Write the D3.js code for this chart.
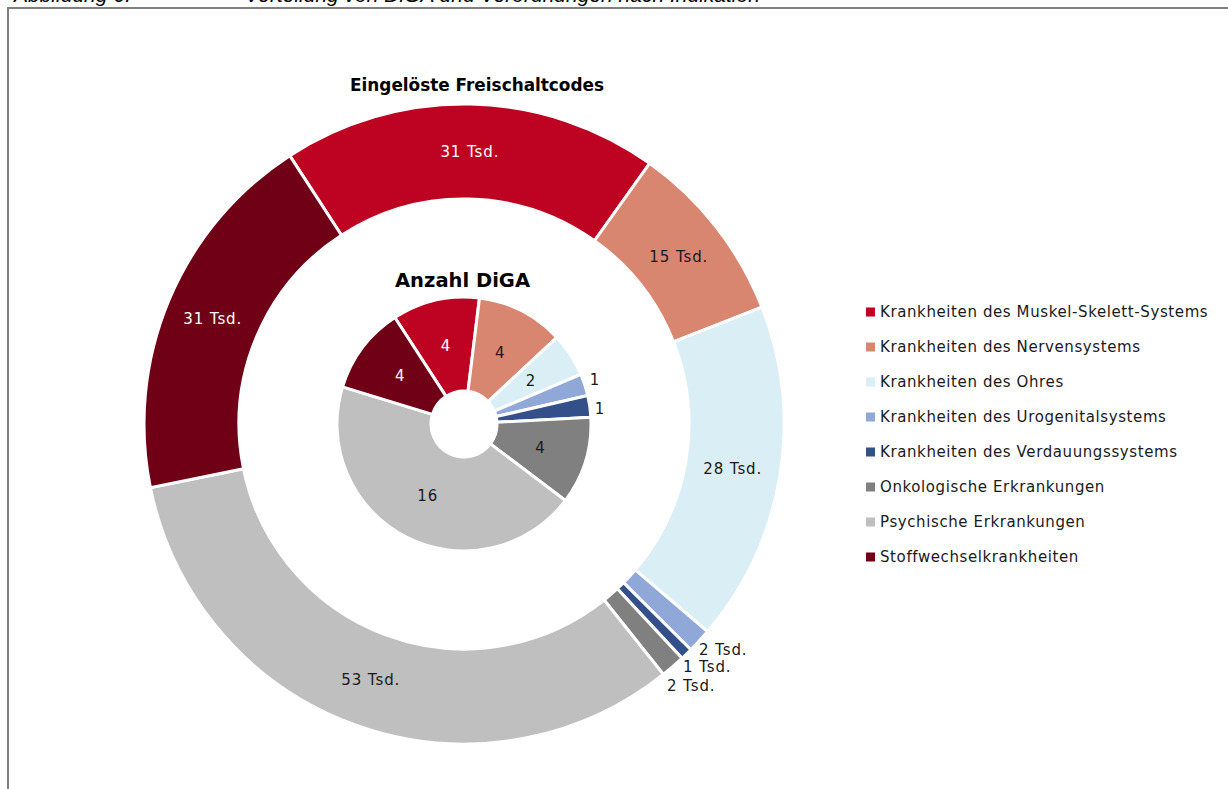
<!DOCTYPE html>
<html><head><meta charset="utf-8">
<script src="https://cdn.jsdelivr.net/npm/d3@7"></script>
<style>body{margin:0;background:#fff}svg{display:block}</style>
</head><body>
<svg id="c" width="1228" height="789"></svg>
<script>
const categories = ["Krankheiten des Muskel-Skelett-Systems","Krankheiten des Nervensystems","Krankheiten des Ohres","Krankheiten des Urogenitalsystems","Krankheiten des Verdauungssystems","Onkologische Erkrankungen","Psychische Erkrankungen","Stoffwechselkrankheiten"];
const codesTsd = [31,15,28,2,1,2,53,31];
const codesLabels = ["31 Tsd.","15 Tsd.","28 Tsd.","2 Tsd.","1 Tsd.","2 Tsd.","53 Tsd.","31 Tsd."];
const digaCount = [4,4,2,1,1,4,16,4];
const colors = ["#BE0322","#D88670","#DAEEF5","#8FA8D8","#34508A","#808080","#BFBFBF","#700015"];
const whiteText = [true,false,false,false,false,false,false,true];

const svg = d3.select("#c");
const font = "'DejaVu Sans', Verdana, sans-serif";

// caption (cut off at top, as in the source)
svg.append("text").attr("x",14).attr("y",2).attr("font-family","'Liberation Sans', Arial, sans-serif").attr("font-style","italic").attr("font-size",21).attr("fill","#000").text("Abbildung 6:");
svg.append("text").attr("x",245).attr("y",2).attr("font-family","'Liberation Sans', Arial, sans-serif").attr("font-style","italic").attr("font-size",21).attr("fill","#000").text("Verteilung von DiGA und Verordnungen nach Indikation");

// frame
svg.append("path").attr("d","M8,789 L8,8 L1228,8").attr("fill","none").attr("stroke","#808080").attr("stroke-width",2);

const cx = 464, cy = 424;
const g = svg.append("g").attr("transform",`translate(${cx},${cy})`);
const start = -33*Math.PI/180;
const pie = d3.pie().sort(null).value(d=>d.v).startAngle(start).endAngle(start+2*Math.PI);

// outer ring
const outerData = pie(codesTsd.map((v,i)=>({v,i})));
const arcOuter = d3.arc().innerRadius(225).outerRadius(320);
g.selectAll("path.o").data(outerData).join("path").attr("class","o")
  .attr("d",arcOuter).attr("fill",d=>colors[d.data.i]).attr("stroke","#fff").attr("stroke-width",3);

// inner pie
const innerData = pie(digaCount.map((v,i)=>({v,i})));
const arcInner = d3.arc().innerRadius(33).outerRadius(127);
g.selectAll("path.i").data(innerData).join("path").attr("class","i")
  .attr("d",arcInner).attr("fill",d=>colors[d.data.i]).attr("stroke","#fff").attr("stroke-width",3);

const lblSize = 15, lblSpacing = 0.9;
// outer labels
const outsideOuter = {3:[235,226],4:[219,243],5:[203,262]};
outerData.forEach(d=>{
  const i=d.data.i;
  let x,y,anchor="middle";
  if(outsideOuter[i]){ [x,y]=outsideOuter[i]; anchor="start"; }
  else { [x,y]=arcOuter.centroid(d); }
  g.append("text").attr("x",x).attr("y",y).attr("dy","0.35em").attr("text-anchor",anchor)
   .attr("font-family",font).attr("font-size",lblSize).attr("letter-spacing",lblSpacing)
   .attr("fill",whiteText[i]?"#fff":"#1a1a1a").text(codesLabels[i]);
});
// inner labels
const outsideInner = {3:[131,-44],4:[136,-15]};
innerData.forEach(d=>{
  const i=d.data.i;
  let x,y;
  if(outsideInner[i]){ [x,y]=outsideInner[i]; }
  else { [x,y]=arcInner.centroid(d); }
  g.append("text").attr("x",x).attr("y",y).attr("dy","0.35em").attr("text-anchor","middle")
   .attr("font-family",font).attr("font-size",lblSize).attr("letter-spacing",lblSpacing)
   .attr("fill",whiteText[i]?"#fff":"#1a1a1a").text(digaCount[i]);
});

// titles
svg.append("text").attr("x",350).attr("y",91).attr("font-family",font).attr("font-weight","bold").attr("font-size",18.5)
  .attr("textLength",254).attr("lengthAdjust","spacingAndGlyphs").text("Eingelöste Freischaltcodes");
svg.append("text").attr("x",395).attr("y",287).attr("font-family",font).attr("font-weight","bold").attr("font-size",19)
  .attr("textLength",135).attr("lengthAdjust","spacingAndGlyphs").text("Anzahl DiGA");

// legend
const leg = svg.append("g");
categories.forEach((c,i)=>{
  const y = 312 + i*35;
  leg.append("rect").attr("x",866).attr("y",y-4.5).attr("width",9).attr("height",9).attr("fill",colors[i]);
  leg.append("text").attr("x",880).attr("y",y).attr("dy","0.35em").attr("font-family",font).attr("font-size",15)
   .attr("letter-spacing",0.6).attr("fill","#1a1a1a").text(c);
});
</script>
</body></html>
